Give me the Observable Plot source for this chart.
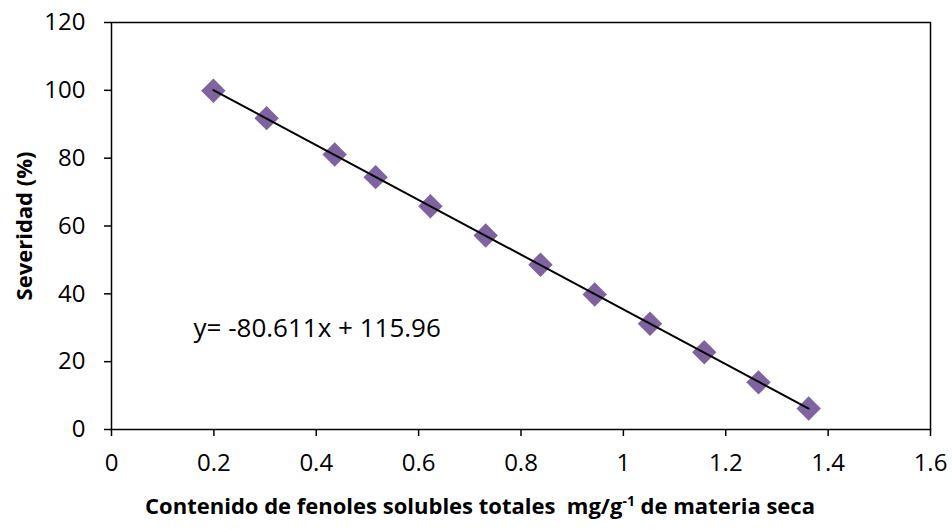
<!DOCTYPE html>
<html><head><meta charset="utf-8">
<script src="https://cdn.jsdelivr.net/npm/d3@7"></script>
<script src="https://cdn.jsdelivr.net/npm/@observablehq/plot@0.6"></script>
<style>body{margin:0;background:#fff}</style></head>
<body><div id="chart"></div>
<script>
const fenoles = [0.199, 0.303, 0.436, 0.516, 0.623, 0.731, 0.838, 0.944, 1.052, 1.158, 1.264, 1.362];
const severidad = [99.9, 91.8, 81.1, 74.4, 65.8, 57.2, 48.6, 39.8, 31.2, 22.8, 13.9, 6.2];
const xTicks = [0, 0.2, 0.4, 0.6, 0.8, 1, 1.2, 1.4, 1.6];
const yTicks = [0, 20, 40, 60, 80, 100, 120];
const equation = "y= -80.611x + 115.96";
const yLabel = "Severidad (%)";
const xLabelParts = ["Contenido de fenoles solubles totales  mg/g", "-1", " de materia seca"];

const data = fenoles.map((x, i) => ({x, y: severidad[i]}));

const chart = Plot.plot({
  width: 952, height: 529,
  marginLeft: 111, marginRight: 22, marginTop: 22, marginBottom: 100,
  style: {fontFamily: "'Open Sans', sans-serif", fontSize: "24px", color: "#000", background: "#fff"},
  x: {domain: [0, 1.6]},
  y: {domain: [0, 120]},
  marks: [
    Plot.frame({stroke: "#000", strokeWidth: 1.5}),
    Plot.axisX({ticks: xTicks, tickSize: 7, tickPadding: 17, label: null, tickFormat: d => String(d), strokeWidth: 1.5, fontSize: 24}),
    Plot.axisY({ticks: yTicks, tickSize: 7, tickPadding: 19, label: null, tickFormat: d => String(d), strokeWidth: 1.5, fontSize: 24}),
    Plot.dot(data, {x: "x", y: "y", symbol: "diamond2", r: 11, fill: "#7f63a1", stroke: "none"}),
    Plot.linearRegressionY(data, {x: "x", y: "y", stroke: "#000", strokeWidth: 2, ci: 0}),
    Plot.text([equation], {text: d => d, frameAnchor: "bottom-left", dx: 82, dy: -93, textAnchor: "start", fontSize: 26})
  ]
});

const svg = d3.select(chart);
const xl = svg.append("text")
  .attr("x", 480).attr("y", 514)
  .attr("text-anchor", "middle")
  .attr("font-weight", "bold")
  .attr("font-size", 22)
  .attr("fill", "#000");
xl.append("tspan").text(xLabelParts[0]);
xl.append("tspan").attr("font-size", 14).attr("dy", -8).text(xLabelParts[1]);
xl.append("tspan").attr("dy", 8).text(xLabelParts[2]);

svg.append("text")
  .attr("transform", "translate(32,226) rotate(-90)")
  .attr("text-anchor", "middle")
  .attr("font-weight", "bold")
  .attr("font-size", 22)
  .attr("fill", "#000")
  .text(yLabel);

document.getElementById("chart").appendChild(chart);
</script>
</body></html>
